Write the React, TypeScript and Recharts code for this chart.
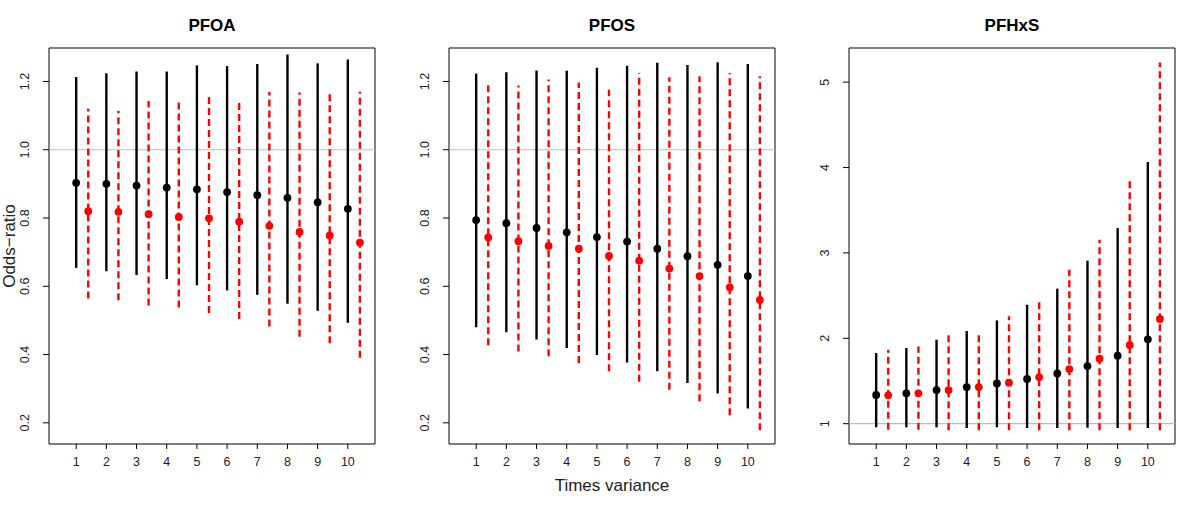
import React from "react";
import {
  ComposedChart,
  Scatter,
  XAxis,
  YAxis,
  ReferenceLine,
  ReferenceArea,
} from "recharts";

const FONT = "'Liberation Sans', Arial, Helvetica, sans-serif";

const timesVariance = [1, 2, 3, 4, 5, 6, 7, 8, 9, 10];
const xTicks = [1, 2, 3, 4, 5, 6, 7, 8, 9, 10];
const redOffset = 0.4;

// PFOA
const pfoaBlackEst = [0.903, 0.9, 0.895, 0.889, 0.884, 0.876, 0.867, 0.859, 0.846, 0.827];
const pfoaBlackLow = [0.654, 0.644, 0.633, 0.621, 0.603, 0.588, 0.575, 0.549, 0.528, 0.493];
const pfoaBlackHigh = [1.213, 1.224, 1.229, 1.229, 1.247, 1.245, 1.251, 1.279, 1.253, 1.264];
const pfoaRedEst = [0.82, 0.818, 0.811, 0.803, 0.799, 0.789, 0.777, 0.759, 0.749, 0.728];
const pfoaRedLow = [0.564, 0.559, 0.544, 0.538, 0.522, 0.504, 0.482, 0.452, 0.433, 0.391];
const pfoaRedHigh = [1.12, 1.114, 1.143, 1.138, 1.163, 1.146, 1.169, 1.168, 1.168, 1.17];

// PFOS
const pfosBlackEst = [0.794, 0.785, 0.771, 0.758, 0.744, 0.731, 0.71, 0.688, 0.663, 0.63];
const pfosBlackLow = [0.48, 0.465, 0.444, 0.419, 0.399, 0.377, 0.351, 0.317, 0.286, 0.242];
const pfosBlackHigh = [1.223, 1.227, 1.232, 1.231, 1.24, 1.246, 1.255, 1.248, 1.256, 1.251];
const pfosRedEst = [0.743, 0.732, 0.718, 0.71, 0.689, 0.675, 0.652, 0.63, 0.597, 0.56];
const pfosRedLow = [0.427, 0.409, 0.395, 0.375, 0.351, 0.32, 0.297, 0.263, 0.222, 0.178];
const pfosRedHigh = [1.195, 1.188, 1.206, 1.197, 1.176, 1.225, 1.212, 1.215, 1.225, 1.215];

// PFHxS
const pfhxsBlackEst = [1.336, 1.355, 1.394, 1.429, 1.472, 1.523, 1.589, 1.675, 1.796, 1.988];
const pfhxsBlackLow = [0.957, 0.957, 0.957, 0.949, 0.957, 0.949, 0.949, 0.953, 0.949, 0.949];
const pfhxsBlackHigh = [1.828, 1.886, 1.984, 2.085, 2.21, 2.393, 2.581, 2.909, 3.291, 4.064];
const pfhxsRedEst = [1.332, 1.355, 1.394, 1.429, 1.48, 1.546, 1.64, 1.761, 1.921, 2.226];
const pfhxsRedLow = [0.93, 0.93, 0.922, 0.922, 0.922, 0.922, 0.922, 0.922, 0.922, 0.922];
const pfhxsRedHigh = [1.866, 1.905, 2.042, 2.081, 2.257, 2.432, 2.803, 3.155, 3.857, 5.231];

const oddsTicks = [0.2, 0.4, 0.6, 0.8, 1.0, 1.2];
const pfhxsTicks = [1, 2, 3, 4, 5];

const panels = [
  {
    title: "PFOA",
    domain: [0.138, 1.298],
    ticks: oddsTicks,
    decimals: 1,
    black: [pfoaBlackEst, pfoaBlackLow, pfoaBlackHigh],
    red: [pfoaRedEst, pfoaRedLow, pfoaRedHigh],
  },
  {
    title: "PFOS",
    domain: [0.138, 1.298],
    ticks: oddsTicks,
    decimals: 1,
    black: [pfosBlackEst, pfosBlackLow, pfosBlackHigh],
    red: [pfosRedEst, pfosRedLow, pfosRedHigh],
  },
  {
    title: "PFHxS",
    domain: [0.762, 5.4],
    ticks: pfhxsTicks,
    decimals: 0,
    black: [pfhxsBlackEst, pfhxsBlackLow, pfhxsBlackHigh],
    red: [pfhxsRedEst, pfhxsRedLow, pfhxsRedHigh],
  },
];

const X_DOMAIN: [number, number] = [0.1, 10.9];
const PANEL_W = 400;
const H = 506;

const makeYTick = (decimals: number) => (props: any) => {
  const { x, y, payload } = props;
  const tx = x - 12;
  return (
    <text
      x={tx}
      y={y}
      transform={`rotate(-90, ${tx}, ${y})`}
      textAnchor="middle"
      fontSize={12.5}
      fontFamily={FONT}
      fill="#222"
    >
      {Number(payload.value).toFixed(decimals)}
    </text>
  );
};

const XTick = (props: any) => {
  const { x, y, payload } = props;
  return (
    <text
      x={x}
      y={y + 14.5}
      textAnchor="middle"
      fontSize={12.5}
      fontFamily={FONT}
      fill="#222"
    >
      {payload.value}
    </text>
  );
};

const dot = (color: string) => (props: any) => {
  const { cx, cy } = props;
  if (cx == null || cy == null) return <g />;
  return <circle cx={cx} cy={cy} r={3.9} fill={color} />;
};

function Panel({ p }: { p: any }) {
  const blackPts = timesVariance.map((t, i) => ({ x: t, y: p.black[0][i] }));
  const redPts = timesVariance.map((t, i) => ({ x: t + redOffset, y: p.red[0][i] }));
  return (
    <ComposedChart
      width={PANEL_W}
      height={H}
      margin={{ top: 48, right: 25, bottom: 0, left: 0 }}
    >
      <XAxis
        type="number"
        dataKey="x"
        domain={X_DOMAIN}
        ticks={xTicks}
        allowDataOverflow
        axisLine={false}
        tickLine={{ stroke: "#000" }}
        tickSize={5}
        tickMargin={2}
        tick={XTick}
        height={62}
        interval={0}
      />
      <YAxis
        type="number"
        dataKey="y"
        domain={p.domain}
        ticks={p.ticks}
        allowDataOverflow
        axisLine={false}
        tickLine={{ stroke: "#000" }}
        tickSize={6}
        width={49}
        tick={makeYTick(p.decimals)}
        interval={0}
      />
      <ReferenceArea
        x1={X_DOMAIN[0]}
        x2={X_DOMAIN[1]}
        y1={p.domain[0]}
        y2={p.domain[1]}
        fill="none"
        fillOpacity={0}
        stroke="#000"
        strokeWidth={1}
        ifOverflow="visible"
      />
      <ReferenceLine y={1} stroke="#bdbdbd" strokeWidth={1.2} />
      {timesVariance.map((t, i) => (
        <ReferenceLine
          key={"b" + i}
          segment={[
            { x: t, y: p.black[1][i] },
            { x: t, y: p.black[2][i] },
          ]}
          stroke="#000"
          strokeWidth={2.4}
        />
      ))}
      {timesVariance.map((t, i) => (
        <ReferenceLine
          key={"r" + i}
          segment={[
            { x: t + redOffset, y: p.red[1][i] },
            { x: t + redOffset, y: p.red[2][i] },
          ]}
          stroke="#ff0000"
          strokeWidth={2.4}
          strokeDasharray="7 4"
        />
      ))}
      <Scatter data={blackPts} dataKey="y" isAnimationActive={false} shape={dot("#000")} />
      <Scatter data={redPts} dataKey="y" isAnimationActive={false} shape={dot("#ff0000")} />
    </ComposedChart>
  );
}

export default function App() {
  return (
    <div
      style={{
        position: "absolute",
        left: 0,
        top: 0,
        width: 1200,
        height: H,
        background: "#fff",
        overflow: "hidden",
      }}
    >
      {panels.map((p, k) => (
        <div key={p.title} style={{ position: "absolute", left: k * PANEL_W, top: 0 }}>
          <Panel p={p} />
        </div>
      ))}
      <svg
        width={1200}
        height={H}
        style={{ position: "absolute", left: 0, top: 0, pointerEvents: "none" }}
      >
        {panels.map((p, k) => (
          <text
            key={p.title}
            x={k * PANEL_W + 212}
            y={31}
            textAnchor="middle"
            fontSize={17}
            fontWeight="bold"
            fontFamily={FONT}
            fill="#000"
          >
            {p.title}
          </text>
        ))}
        <text
          x={15}
          y={246}
          transform="rotate(-90, 15, 246)"
          textAnchor="middle"
          fontSize={17}
          fontFamily={FONT}
          fill="#222"
        >
          Odds−ratio
        </text>
        <text
          x={612}
          y={490.5}
          textAnchor="middle"
          fontSize={17}
          fontFamily={FONT}
          fill="#222"
        >
          Times variance
        </text>
      </svg>
    </div>
  );
}
